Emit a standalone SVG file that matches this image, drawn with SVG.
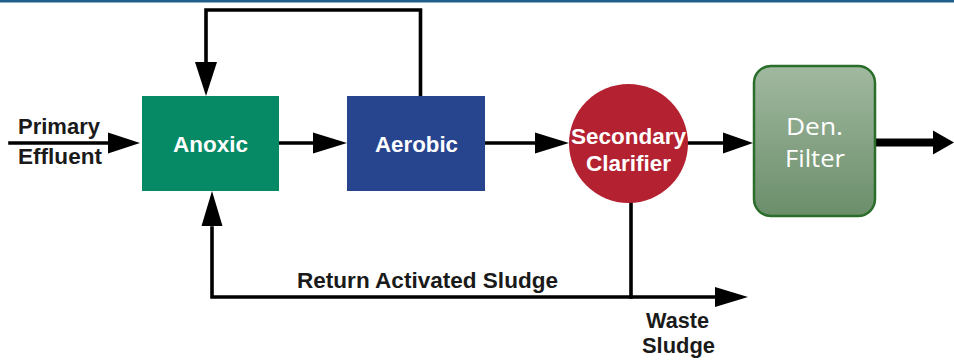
<svg xmlns="http://www.w3.org/2000/svg" width="954" height="364" viewBox="0 0 954 364">
<style>
.lbl{font-family:"Liberation Sans",Arial,sans-serif;font-weight:bold;font-size:22px;text-anchor:middle}
.dark{fill:#1a1a1a}
.white{fill:#ffffff}
.den{font-family:"Open Sans","Liberation Sans",sans-serif;font-size:23px;fill:#ffffff;text-anchor:middle}
.ln{fill:none;stroke:#000;stroke-width:3.6;stroke-linejoin:miter;stroke-linecap:square}
.hd{fill:#000}
</style>
<defs>
<linearGradient id="gf" x1="0" y1="0" x2="0" y2="1">
<stop offset="0" stop-color="#a1b9a0"/>
<stop offset="1" stop-color="#6b8e6a"/>
</linearGradient>
</defs>
<rect x="0" y="0" width="954" height="2.5" fill="#1e5f8c"/>
<g id="connectors">
<path class="ln" d="M10 143 H112"/>
<polygon class="hd" points="108,132.5 140,143 108,153.5"/>
<path class="ln" d="M279 143 H316"/>
<polygon class="hd" points="313,132.5 347,143 313,153.5"/>
<path class="ln" d="M485 143 H537"/>
<polygon class="hd" points="535,132.5 569,143 535,153.5"/>
<path class="ln" d="M688 143 H726"/>
<polygon class="hd" points="723,132.5 753,143 723,153.5"/>
<path d="M876 142.5 H936" stroke="#000" stroke-width="8" fill="none"/>
<polygon class="hd" points="933,130.5 954,142.5 933,154.5"/>
<path class="ln" d="M420.5 96 V10 H206 V64"/>
<polygon class="hd" points="195,62 217,62 206,96"/>
<path class="ln" d="M631 203 V297"/>
<path class="ln" d="M212 228 V297 H716"/>
<polygon class="hd" points="715,287 748,297 715,307"/>
<polygon class="hd" points="201.5,226 222.5,226 212,191"/>
</g>
<g id="primary-effluent">
<text class="lbl dark" x="59" y="134" textLength="82" lengthAdjust="spacingAndGlyphs">Primary</text>
<text class="lbl dark" x="60" y="164" textLength="84" lengthAdjust="spacingAndGlyphs">Effluent</text>
</g>
<g id="anoxic">
<rect x="142" y="96" width="137" height="95" fill="#068a66"/>
<text class="lbl white" x="210.5" y="152" textLength="75" lengthAdjust="spacingAndGlyphs">Anoxic</text>
</g>
<g id="aerobic">
<rect x="347" y="96" width="138" height="95" fill="#27448f"/>
<text class="lbl white" x="416.5" y="152" textLength="83" lengthAdjust="spacingAndGlyphs">Aerobic</text>
</g>
<g id="clarifier">
<circle cx="628.5" cy="143.5" r="59.5" fill="#b42130"/>
<text class="lbl white" x="628.5" y="144" textLength="115" lengthAdjust="spacingAndGlyphs">Secondary</text>
<text class="lbl white" x="628.5" y="171" textLength="85" lengthAdjust="spacingAndGlyphs">Clarifier</text>
</g>
<g id="den-filter">
<rect x="754" y="66" width="121" height="150" rx="17" fill="url(#gf)" stroke="#2b6e2b" stroke-width="2.5"/>
<text class="den" x="814.5" y="135" textLength="57" lengthAdjust="spacingAndGlyphs">Den.</text>
<text class="den" x="815" y="167" textLength="60" lengthAdjust="spacingAndGlyphs">Filter</text>
</g>
<g id="ras-label">
<text class="lbl dark" x="427.5" y="288" textLength="261" lengthAdjust="spacingAndGlyphs">Return Activated Sludge</text>
</g>
<g id="waste-sludge">
<text class="lbl dark" x="677.5" y="328" textLength="63" lengthAdjust="spacingAndGlyphs">Waste</text>
<text class="lbl dark" x="678.5" y="353" textLength="73" lengthAdjust="spacingAndGlyphs">Sludge</text>
</g>
</svg>
